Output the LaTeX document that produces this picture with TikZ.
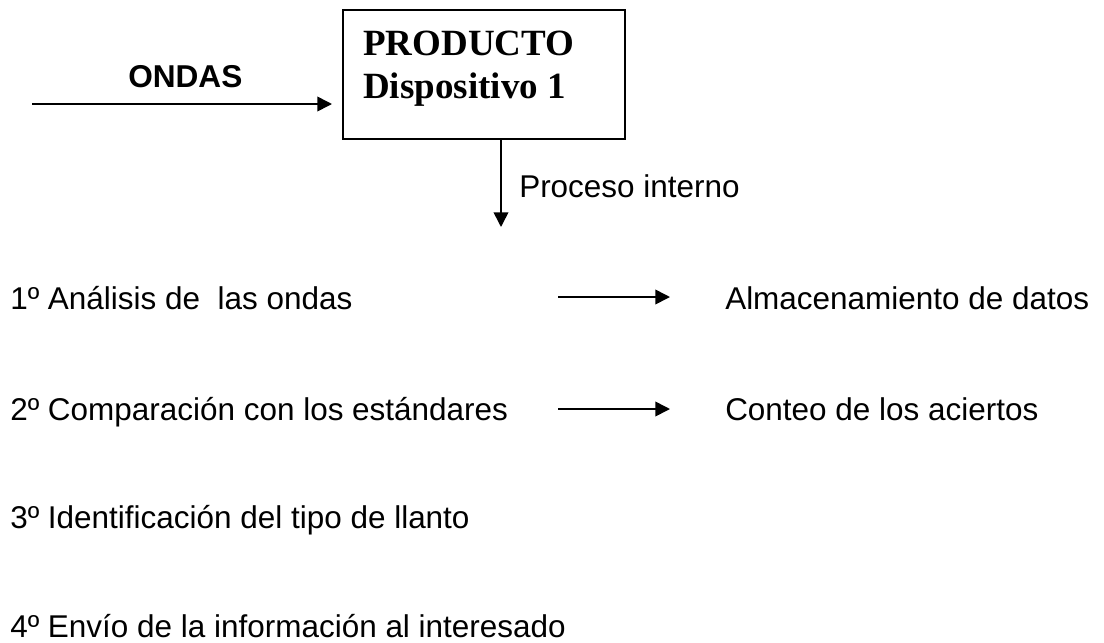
\documentclass[tikz,border=0pt]{standalone}
\usepackage{fontspec}
\setmainfont{Liberation Sans}
\newfontfamily\prodfont{Liberation Serif}
\usetikzlibrary{arrows.meta}
\tikzset{
  paso/.style={anchor=base west, inner sep=0pt, font=\fontsize{23.6}{28}\selectfont},
  titulo/.style={anchor=base west, inner sep=0pt, font=\prodfont\bfseries\fontsize{27.75}{32}\selectfont},
  flecha/.style={line width=1.2pt, -{Triangle[length=11pt,width=11pt]}},
}
\begin{document}
\begin{tikzpicture}[x=0.75pt,y=-0.75pt]
  \useasboundingbox (0,0) rectangle (1104,643);
  % caja del producto
  \node (prod) [draw, line width=1.5pt, minimum width=211.5pt, minimum height=96.75pt] at (484,74.5) {};
  \node (prodA) [titulo] at (363,55) {PRODUCTO};
  \node (prodB) [titulo] at (363,98) {Dispositivo 1};
  % entrada
  \node (ondas) [paso, font=\bfseries\fontsize{23.7}{28}\selectfont] at (128,87) {ONDAS};
  \coordinate (ondasIni) at (32,104);
  \draw[flecha, shorten >=7.5pt] (ondasIni) -- (ondasIni -| prod.west);
  % proceso interno
  \coordinate (procFin) at (501,227);
  \draw[flecha] (prod.south -| procFin) -- (procFin);
  \node (proc) [paso] at (519,197) {Proceso interno};
  % pasos
  \node (p1) [paso] at (10,309) {1º Análisis de\ \ las ondas};
  \node (p2) [paso] at (10,420) {2º Comparación con los estándares};
  \node (p3) [paso] at (10,528) {3º Identificación del tipo de llanto};
  \node (p4) [paso] at (10,637) {4º Envío de la información al interesado};
  \node (r1) [paso] at (725,309) {Almacenamiento de datos};
  \node (r2) [paso] at (725,420) {Conteo de los aciertos};
  \coordinate (a1) at (558,297);
  \coordinate (b1) at (670,297);
  \coordinate (a2) at (558,409);
  \coordinate (b2) at (670,409);
  \draw[flecha] (a1) -- (b1);
  \draw[flecha] (a2) -- (b2);
\end{tikzpicture}
\end{document}
